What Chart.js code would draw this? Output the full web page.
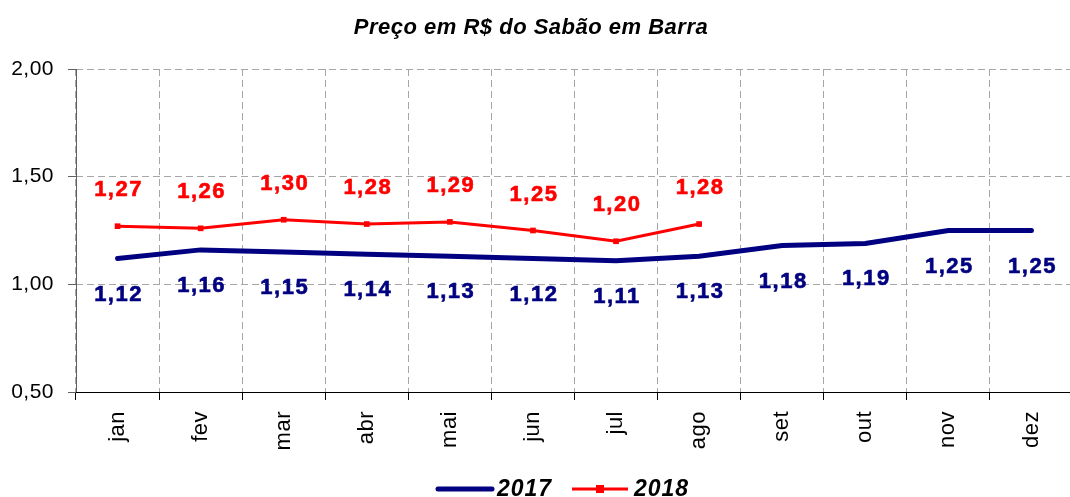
<!DOCTYPE html>
<html>
<head>
<meta charset="utf-8">
<script src="https://cdn.jsdelivr.net/npm/chart.js@4/dist/chart.umd.min.js"></script>
<style>
  body { margin: 0; overflow: hidden; background: #fff; }
  #wrap { position: relative; width: 1077px; height: 497px; }
</style>
</head>
<body>
<div id="wrap"><canvas id="myChart"></canvas></div>
<script>
var meses = ['jan', 'fev', 'mar', 'abr', 'mai', 'jun', 'jul', 'ago', 'set', 'out', 'nov', 'dez'];
var precos2017 = [1.12, 1.16, 1.15, 1.14, 1.13, 1.12, 1.11, 1.13, 1.18, 1.19, 1.25, 1.25];
var precos2018 = [1.27, 1.26, 1.30, 1.28, 1.29, 1.25, 1.20, 1.28];
var yTicks = [0.5, 1.0, 1.5, 2.0];

var fonte = 'Arial, "Liberation Sans", sans-serif';

function virgula(v) {
  return v.toFixed(2).replace('.', ',');
}

// eixos solidos, rotulos dos valores, titulo e legenda
var extras = {
  id: 'extras',
  beforeDraw: function (chart) {
    chart.ctx.letterSpacing = '0.5px';
  },
  beforeDatasetsDraw: function (chart) {
    var c = chart.ctx;
    var a = chart.chartArea;
    c.save();
    c.setLineDash([]);
    c.lineWidth = 1;
    c.strokeStyle = '#000';
    c.beginPath(); c.moveTo(a.left, a.bottom + 0.5); c.lineTo(a.right, a.bottom + 0.5); c.stroke();
    c.strokeStyle = '#606060';
    c.beginPath(); c.moveTo(a.left + 0.5, a.top); c.lineTo(a.left + 0.5, a.bottom); c.stroke();
    c.restore();
  },
  afterDatasetsDraw: function (chart) {
    var c = chart.ctx;
    c.save();
    c.font = 'bold 22px ' + fonte;
    c.letterSpacing = '1.5px';
    c.textAlign = 'center';
    c.textBaseline = 'middle';
    c.lineWidth = 0.6;
    chart.data.datasets.forEach(function (ds, i) {
      var meta = chart.getDatasetMeta(i);
      meta.data.forEach(function (pt, j) {
        c.fillStyle = ds.borderColor;
        c.strokeStyle = ds.borderColor;
        var dy = i == 0 ? 36 : -36;
        c.fillText(virgula(ds.data[j]), pt.x + 1, pt.y + dy);
        c.strokeText(virgula(ds.data[j]), pt.x + 1, pt.y + dy);
      });
    });
    c.restore();
  },
  afterDraw: function (chart) {
    var c = chart.ctx;
    c.save();
    // titulo
    c.fillStyle = '#000';
    c.font = 'italic bold 22px ' + fonte;
    c.letterSpacing = '0.5px';
    c.textAlign = 'center';
    c.textBaseline = 'middle';
    c.fillText('Preço em R$ do Sabão em Barra', 531, 28);

    // legenda
    var y = 489;
    c.lineCap = 'round';
    c.strokeStyle = '#000080';
    c.lineWidth = 5;
    c.beginPath(); c.moveTo(438, y); c.lineTo(492, y); c.stroke();
    c.strokeStyle = '#ff0000';
    c.lineWidth = 3;
    c.lineCap = 'butt';
    c.beginPath(); c.moveTo(572, y); c.lineTo(628, y); c.stroke();
    c.fillStyle = '#ff0000';
    c.fillRect(596, y - 4, 8, 8);
    c.fillStyle = '#000';
    c.textAlign = 'left';
    c.font = 'italic bold 23px ' + fonte;
    c.letterSpacing = '1px';
    c.fillText('2017', 497, y + 1);
    c.fillText('2018', 634, y + 1);
    c.restore();
  }
};

const ctx = document.getElementById('myChart');

new Chart(ctx, {
  type: 'line',
  data: {
    labels: meses,
    datasets: [{
      label: '2017',
      data: precos2017,
      borderColor: '#000080',
      backgroundColor: '#000080',
      borderWidth: 5,
      borderCapStyle: 'round',
      pointRadius: 0,
      tension: 0
    }, {
      label: '2018',
      data: precos2018,
      borderColor: '#ff0000',
      backgroundColor: '#ff0000',
      borderWidth: 3,
      pointStyle: 'rect',
      pointRadius: 4,
      pointBorderWidth: 0,
      tension: 0
    }]
  },
  options: {
    responsive: true,
    maintainAspectRatio: false,
    animation: false,
    layout: { padding: { top: 69, left: 0, right: 0, bottom: 0 } },
    plugins: {
      legend: { display: false },
      title: { display: false },
      tooltip: { enabled: false }
    },
    scales: {
      x: {
        offset: true,
        grid: {
          offset: true,
          color: '#a6a6a6',
          lineWidth: 1,
          tickLength: 8,
          tickColor: '#000',
          tickBorderDash: []
        },
        border: { display: false, dash: [7, 4] },
        ticks: {
          color: '#000',
          font: { family: fonte, size: 22 },
          minRotation: 90,
          maxRotation: 90,
          padding: 11,
          autoSkip: false
        },
        afterFit: function (s) {
          s.height = 105;
          s.paddingLeft = 0;
          s.paddingRight = 0;
        }
      },
      y: {
        min: 0.5,
        max: 2.0,
        afterBuildTicks: function (s) {
          s.ticks = yTicks.map(function (v) { return { value: v }; });
        },
        grid: {
          color: '#a6a6a6',
          lineWidth: 1,
          tickLength: 8,
          tickColor: '#606060',
          tickBorderDash: []
        },
        border: { display: false, dash: [7, 4] },
        ticks: {
          color: '#000',
          font: { family: fonte, size: 21 },
          padding: 14,
          callback: function (v) { return virgula(v); }
        },
        afterFit: function (s) {
          s.width = 76;
          s.paddingTop = 0;
          s.paddingBottom = 0;
        }
      }
    }
  },
  plugins: [extras]
});
</script>
</body>
</html>
